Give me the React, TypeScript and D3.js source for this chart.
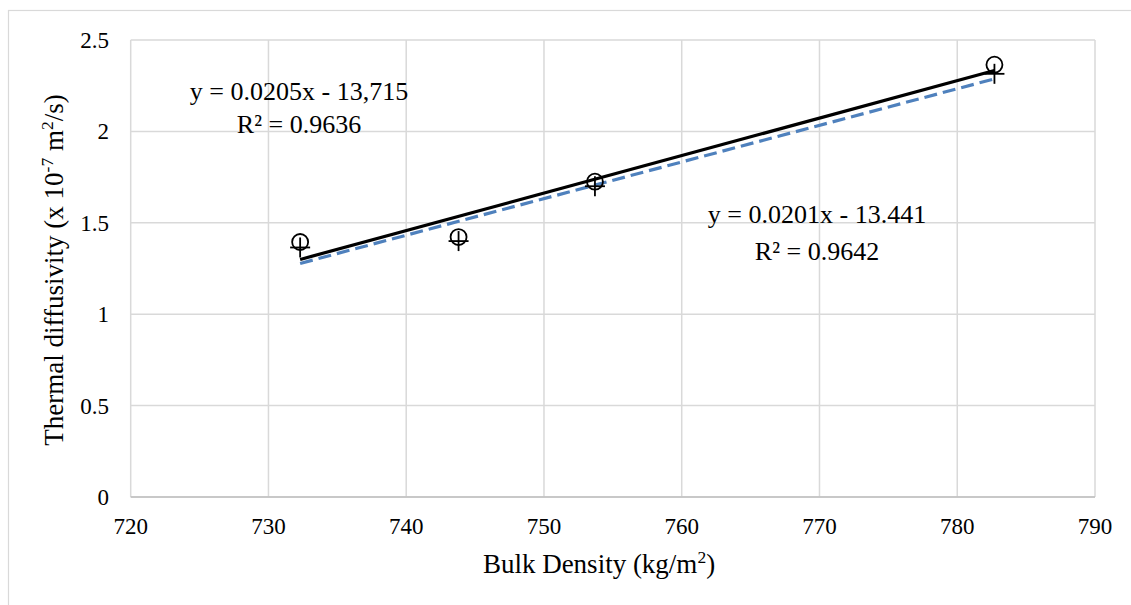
import React from "react";
import * as d3 from "d3";

const xTicks = [720, 730, 740, 750, 760, 770, 780, 790];
const yTicks = [0, 0.5, 1, 1.5, 2, 2.5];
const density = [732.3, 743.8, 753.7, 782.7];
const seriesCircle = [1.395, 1.422, 1.725, 2.365];
const seriesCross = [1.365, 1.4, 1.7, 2.315];
const eqCircle = ["y = 0.0205x - 13,715", "R² = 0.9636"];
const eqCross = ["y = 0.0201x - 13.441", "R² = 0.9642"];

function fit(xs: number[], ys: number[]) {
  const mx = d3.mean(xs)!;
  const my = d3.mean(ys)!;
  let sxy = 0, sxx = 0;
  xs.forEach((x, i) => {
    sxy += (x - mx) * (ys[i] - my);
    sxx += (x - mx) * (x - mx);
  });
  const b = sxy / sxx;
  return { b, a: my - b * mx };
}

export default function App() {
  const W = 1131, H = 605;
  const x = d3.scaleLinear().domain([720, 790]).range([130.7, 1095]);
  const y = d3.scaleLinear().domain([0, 2.5]).range([497, 40]);
  const font = "'Liberation Serif', 'Times New Roman', serif";
  const xMin = d3.min(density)!, xMax = d3.max(density)!;
  const f1 = fit(density, seriesCircle);
  const f2 = fit(density, seriesCross);
  const seg = d3.line<[number, number]>().x((d) => x(d[0])).y((d) => y(d[1]));
  const l1 = seg([
    [xMin, f1.a + f1.b * xMin],
    [xMax, f1.a + f1.b * xMax],
  ]);
  const l2 = seg([
    [xMin, f2.a + f2.b * xMin],
    [xMax, f2.a + f2.b * xMax],
  ]);
  return (
    <svg width={W} height={H} style={{ position: "absolute", left: 0, top: 0, background: "#fff" }} fontFamily={font}>
      <rect x={8.5} y={10.5} width={1200} height={700} fill="#fff" stroke="#d9d9d9" strokeWidth={1.2} />
      {yTicks.map((t) => (
        <line key={"gy" + t} x1={x(720)} x2={x(790)} y1={y(t)} y2={y(t)} stroke="#d9d9d9" strokeWidth={1.5} />
      ))}
      {xTicks.map((t) => (
        <line key={"gx" + t} x1={x(t)} x2={x(t)} y1={y(0)} y2={y(2.5)} stroke="#d9d9d9" strokeWidth={1.5} />
      ))}
      <line x1={x(720)} x2={x(790)} y1={y(0)} y2={y(0)} stroke="#bfbfbf" strokeWidth={1.5} />
      {yTicks.map((t) => (
        <text key={"ty" + t} x={109} y={y(t) + 8} fontSize={23} textAnchor="end" fill="#000">
          {String(t)}
        </text>
      ))}
      {xTicks.map((t) => (
        <text key={"tx" + t} x={x(t)} y={534} fontSize={23} textAnchor="middle" fill="#000">
          {String(t)}
        </text>
      ))}
      <path d={l2 || ""} stroke="#4f81bd" strokeWidth={3.2} strokeDasharray="13,6" fill="none" />
      <path d={l1 || ""} stroke="#000" strokeWidth={3.2} fill="none" />
      {density.map((d, i) => (
        <circle key={"c" + i} cx={x(d)} cy={y(seriesCircle[i])} r={8} fill="none" stroke="#000" strokeWidth={1.8} />
      ))}
      {density.map((d, i) => (
        <g key={"p" + i} stroke="#000" strokeWidth={1.8}>
          <line x1={x(d) - 10} x2={x(d) + 10} y1={y(seriesCross[i])} y2={y(seriesCross[i])} />
          <line x1={x(d)} x2={x(d)} y1={y(seriesCross[i]) - 10} y2={y(seriesCross[i]) + 10} />
        </g>
      ))}
      <text x={299} y={100} fontSize={26} textAnchor="middle">{eqCircle[0]}</text>
      <text x={299} y={133} fontSize={26} textAnchor="middle">{eqCircle[1]}</text>
      <text x={817} y={223} fontSize={26} textAnchor="middle">{eqCross[0]}</text>
      <text x={817} y={260} fontSize={26} textAnchor="middle">{eqCross[1]}</text>
      <text x={599} y={573} fontSize={27} textAnchor="middle">
        Bulk Density (kg/m<tspan dy={-10} fontSize={17.5}>2</tspan><tspan dy={10}>)</tspan>
      </text>
      <text transform={`translate(63, 270) rotate(-90)`} fontSize={27} textAnchor="middle">
        Thermal diffusivity (x 10<tspan dy={-10} fontSize={17.5}>-7</tspan><tspan dy={10}> m</tspan>
        <tspan dy={-10} fontSize={17.5}>2</tspan><tspan dy={10}>/s)</tspan>
      </text>
    </svg>
  );
}
